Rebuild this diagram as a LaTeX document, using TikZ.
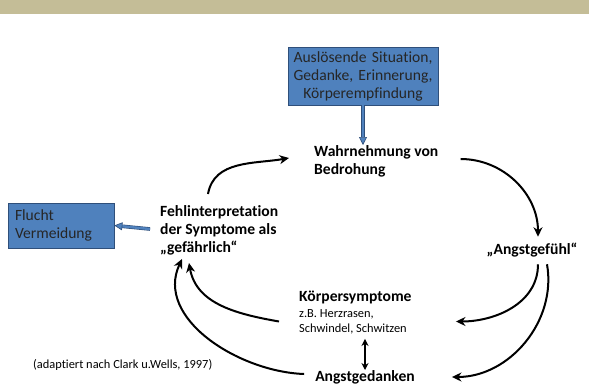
\documentclass[tikz,border=0pt]{standalone}
\usepackage{fontspec}
\setmainfont[Ligatures=NoCommon]{Carlito}
\usepackage{tikz}
\usetikzlibrary{arrows.meta,positioning}
\definecolor{bandtan}{HTML}{C4BD97}
\definecolor{boxblue}{HTML}{4F81BD}
\definecolor{boxedge}{HTML}{2F4F7A}

\begin{document}
\begin{tikzpicture}[x=1pt, y=-1pt, node distance=4pt, font=\fontsize{15.6}{18}\selectfont]
    % Define styles
    \tikzstyle{trigger} = [rectangle, draw=boxedge, fill=boxblue, line width=0.7pt, inner xsep=0pt, inner ysep=3pt, text width=150pt, align=center, minimum height=58pt, text=black!85]
    \tikzstyle{escape} = [rectangle, draw=boxedge, fill=boxblue, line width=0.7pt, inner xsep=7pt, inner ysep=3pt, text width=92pt, align=left, minimum height=45pt, text=black!85]
    \tikzstyle{stage} = [inner sep=0pt, align=left, font=\fontsize{15.6}{18}\selectfont\bfseries]
    \tikzstyle{detail} = [inner sep=0pt, align=left, font=\fontsize{12.4}{15}\selectfont]
    \tikzstyle{flow} = [line width=2pt, -{Stealth[length=9.5pt, width=9pt]}]
    \tikzstyle{twoway} = [line width=2pt, {Stealth[length=7pt, width=7pt]}-{Stealth[length=7pt, width=7pt]}]
    \tikzstyle{hollow} = [draw=boxedge, line width=0.6pt, double=boxblue, double distance=2.4pt, -{Triangle[length=8pt, width=8pt, fill=boxblue]}]

    \useasboundingbox (0,0) rectangle (589,390);
    \fill[bandtan] (0,0) rectangle (589,14);

    % Nodes
    \node [trigger] (trigger) at (363,76) {Auslösende Situation,\\Gedanke, Erinnerung,\\Körperempfindung};
    \node [stage, anchor=west] (perception) at (314,161) {Wahrnehmung von\\Bedrohung};
    \node [stage] (feeling) at (532,250) {„Angstgefühl“};
    \node [stage, anchor=west] (body) at (299,297) {Körpersymptome};
    \node [detail, anchor=west] (bodydetail) at (299,321.5) {z.B. Herzrasen,\\Schwindel, Schwitzen};
    \node [stage] (thoughts) at (365,377) {Angstgedanken};
    \node [stage, anchor=west] (misinterp) at (160,230) {Fehlinterpretation\\der Symptome als\\„gefährlich“};
    \node [escape] (escape) at (61,225.5) {Flucht\\Vermeidung};
    \node [detail, anchor=west] (source) at (33,365) {(adaptiert nach Clark u.Wells, 1997)};

    % Arrows
    \draw [hollow] (trigger.south) -- (trigger.south |- perception.north);
    \draw [hollow, shorten <=10pt] (misinterp.west) -- (escape.east);
    \draw [flow] ([xshift=48pt, yshift=11pt]misinterp.north west) to[out=80, in=190] ([xshift=-25pt, yshift=3pt]perception.west);
    \draw [flow] ([xshift=22pt, yshift=2pt]perception.east) to[out=0, in=90] ([xshift=6pt, yshift=6pt]feeling.north);
    \draw [flow] ([xshift=6pt, yshift=-7pt]feeling.south) to[out=-90, in=0] ([xshift=49pt]bodydetail.east);
    \draw [flow] ([xshift=15pt, yshift=-7pt]feeling.south) to[out=-80, in=0] ([xshift=37pt]thoughts.east);
    \draw [flow] ([xshift=-20pt]bodydetail.west) to[out=170, in=-80] ([xshift=29pt, yshift=-8pt]misinterp.south west);
    \draw [flow] ([xshift=-11pt, yshift=3pt]thoughts.west) to[out=178, in=-115] ([xshift=22pt, yshift=-4pt]misinterp.south west);
    \draw [twoway] ([yshift=-5pt]thoughts.north |- bodydetail.south) -- (thoughts.north);
\end{tikzpicture}
\end{document}
